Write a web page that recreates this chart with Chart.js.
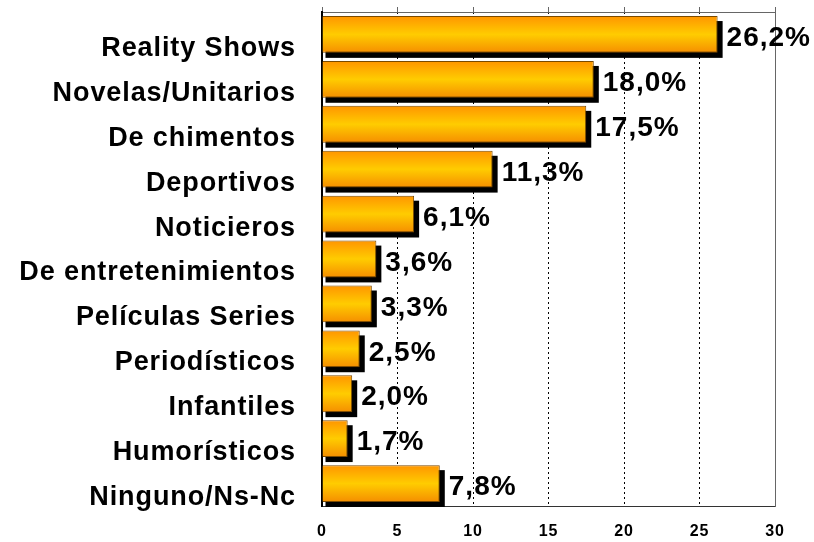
<!DOCTYPE html>
<html>
<head>
<meta charset="utf-8">
<script src="https://cdn.jsdelivr.net/npm/chart.js@4"></script>
<style>
  html, body { margin: 0; padding: 0; background: #fff; }
  #wrap { width: 814px; height: 542px; position: relative; }
</style>
</head>
<body>
<div id="wrap"><canvas id="chart"></canvas></div>
<script>
// categorías y porcentajes
const categories = [
  'Reality Shows', 'Novelas/Unitarios', 'De chimentos', 'Deportivos', 'Noticieros',
  'De entretenimientos', 'Películas Series', 'Periodísticos', 'Infantiles',
  'Humorísticos', 'Ninguno/Ns-Nc'
];
const percentages = [26.2, 18.0, 17.5, 11.3, 6.1, 3.6, 3.3, 2.5, 2.0, 1.7, 7.8];
const axisMin = 0;
const axisMax = 30;
const axisStep = 5;

const FONT = "'Liberation Sans', Arial, Helvetica, sans-serif";
const BAR_PCT = 0.82;

// degradé naranja-amarillo-naranja por barra
function barGradient(c) {
  const chart = c.chart;
  const ys = chart.scales.y;
  if (!ys || !chart.chartArea) return '#FFB800';
  const band = ys.height / categories.length;
  const h = band * BAR_PCT;
  const yc = ys.getPixelForValue(c.dataIndex);
  const g = chart.ctx.createLinearGradient(0, yc - h / 2, 0, yc + h / 2);
  g.addColorStop(0, '#FF9500');
  g.addColorStop(0.5, '#FFCC00');
  g.addColorStop(1, '#F58E00');
  return g;
}

// fija el tamaño de cada eje y quita el relleno de etiquetas
function fixSize(w, h) {
  return s => {
    if (w != null) s.width = w;
    if (h != null) s.height = h;
    s.paddingTop = 0; s.paddingBottom = 0;
    s.paddingLeft = 0; s.paddingRight = 0;
  };
}

// sombra negra detrás de cada barra
const shadowPlugin = {
  id: 'barShadow',
  beforeDraw(chart) {
    chart.ctx.letterSpacing = '0.9px';
  },
  beforeDatasetsDraw(chart) {
    const ctx = chart.ctx;
    const meta = chart.getDatasetMeta(0);
    ctx.save();
    ctx.fillStyle = '#000';
    meta.data.forEach(bar => {
      const p = bar.getProps(['x', 'y', 'base', 'height'], true);
      ctx.fillRect(p.base + 3, p.y - p.height / 2 + 5, p.x - p.base + 2, p.height);
    });
    ctx.restore();
  }
};

// etiquetas de valor a la derecha de las barras
const valueLabels = {
  id: 'valueLabels',
  afterDatasetsDraw(chart) {
    const ctx = chart.ctx;
    const meta = chart.getDatasetMeta(0);
    ctx.save();
    ctx.letterSpacing = '1px';
    ctx.font = 'bold 28px ' + FONT;
    ctx.fillStyle = '#000';
    ctx.textAlign = 'left';
    ctx.textBaseline = 'middle';
    meta.data.forEach((bar, i) => {
      const txt = percentages[i].toFixed(1).replace('.', ',') + '%';
      ctx.fillText(txt, bar.x + 9, bar.y + 4);
    });
    ctx.restore();
  }
};

new Chart(document.getElementById('chart'), {
  type: 'bar',
  data: {
    labels: categories,
    datasets: [{
      data: percentages,
      backgroundColor: barGradient,
      borderColor: '#7a4a00',
      borderWidth: 1,
      borderSkipped: 'left',
      barPercentage: BAR_PCT,
      categoryPercentage: 1
    }]
  },
  options: {
    indexAxis: 'y',
    responsive: true,
    maintainAspectRatio: false,
    animation: false,
    layout: { padding: 0 },
    plugins: {
      legend: { display: false },
      tooltip: { enabled: false }
    },
    scales: {
      x: {
        position: 'bottom',
        min: axisMin,
        max: axisMax,
        ticks: {
          stepSize: axisStep,
          color: '#000',
          padding: 16,
          font: { family: FONT, size: 16, weight: 'bold' }
        },
        grid: {
          drawTicks: false,
          color: c => (c.tick && c.tick.value === 0) ? 'rgba(0,0,0,0)' : '#000',
          lineWidth: 1
        },
        border: { display: true, color: '#333', width: 1, dash: [2, 3] },
        afterFit: fixSize(null, 36)
      },
      x2: {
        position: 'top',
        min: axisMin,
        max: axisMax,
        ticks: { stepSize: axisStep, display: false },
        grid: { drawOnChartArea: false, drawTicks: true, tickLength: 5, color: '#666' },
        border: { display: true, color: '#666', width: 1 },
        afterFit: fixSize(null, 12)
      },
      y: {
        position: 'left',
        ticks: {
          color: '#000',
          padding: 18,
          labelOffset: 14,
          font: { family: FONT, size: 27, weight: 'bold' }
        },
        grid: { display: false },
        border: { display: true, color: '#000', width: 2 },
        afterFit: fixSize(322, null)
      },
      y2: {
        position: 'right',
        type: 'category',
        labels: categories,
        ticks: { display: false },
        grid: { display: false },
        border: { display: true, color: '#666', width: 1 },
        afterFit: fixSize(39, null)
      }
    }
  },
  plugins: [shadowPlugin, valueLabels]
});
</script>
</body>
</html>
